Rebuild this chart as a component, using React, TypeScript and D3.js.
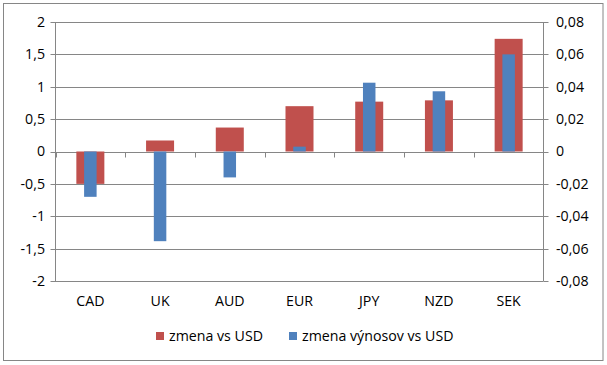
import React from "react";
import * as d3 from "d3";

const categories = ["CAD", "UK", "AUD", "EUR", "JPY", "NZD", "SEK"];
const zmenaVsUSD = [-0.5, 0.17, 0.37, 0.7, 0.77, 0.79, 1.74];
const zmenaVynosovVsUSD = [-0.028, -0.0554, -0.016, 0.003, 0.0425, 0.0372, 0.06];
const leftTicks = [-2, -1.5, -1, -0.5, 0, 0.5, 1, 1.5, 2];
const rightTicks = [-0.08, -0.06, -0.04, -0.02, 0, 0.02, 0.04, 0.06, 0.08];
const seriesNames = ["zmena vs USD", "zmena výnosov vs USD"];

const W = 607, H = 365;
const left = 55.5, right = 543.5, top = 22, bottom = 281;
const RED = "#C0504D", BLUE = "#4F81BD", GRID = "#868686";
const FONT = "'Open Sans', sans-serif";
const FS = 14.2;

export default function App() {
  const x = d3.scaleBand<string>().domain(categories).range([left, right]);
  const yL = d3.scaleLinear().domain([-2, 2]).range([bottom, top]);
  const yR = d3.scaleLinear().domain([-0.08, 0.08]).range([bottom, top]);
  const redW = 28, blueW = 12.5;
  const fmtL = (v: number) => (v === 0 ? "0" : String(v).replace(".", ","));
  const fmtR = (v: number) => (v === 0 ? "0" : v.toFixed(2).replace(".", ","));
  const y0 = Math.round(yL(0)) + 0.5;
  return (
    <svg width={W} height={H} style={{ position: "absolute", left: 0, top: 0, fontFamily: FONT }}>
      <rect x={0} y={0} width={W} height={H} fill="white" />
      <rect x={3.5} y={3.5} width={599.5} height={357} fill="white" stroke={GRID} strokeWidth={1} />
      {leftTicks.map((t) => (
        <g key={"l" + t}>
          <line x1={left - 5} x2={right} y1={Math.round(yL(t)) + 0.5} y2={Math.round(yL(t)) + 0.5} stroke={GRID} />
          <text x={45} y={yL(t)} dy="0.35em" textAnchor="end" fontSize={FS} fill="#000">{fmtL(t)}</text>
        </g>
      ))}
      {rightTicks.map((t) => (
        <g key={"r" + t}>
          <line x1={right} x2={right + 5} y1={Math.round(yR(t)) + 0.5} y2={Math.round(yR(t)) + 0.5} stroke={GRID} />
          <text x={556} y={yR(t)} dy="0.35em" textAnchor="start" fontSize={FS} fill="#000">{fmtR(t)}</text>
        </g>
      ))}
      <line x1={left} x2={left} y1={top} y2={bottom} stroke={GRID} />
      <line x1={right} x2={right} y1={top} y2={bottom} stroke={GRID} />
      {categories.map((c, i) => {
        const cx = (x(c) as number) + x.bandwidth() / 2;
        const v = zmenaVsUSD[i];
        return (
          <rect key={"red" + c} x={cx - redW / 2} width={redW} y={Math.min(yL(v), yL(0))} height={Math.abs(yL(v) - yL(0))} fill={RED} />
        );
      })}
      {categories.map((c, i) => {
        const cx = (x(c) as number) + x.bandwidth() / 2;
        const v = zmenaVynosovVsUSD[i];
        return (
          <rect key={"blue" + c} x={cx - blueW / 2} width={blueW} y={Math.min(yR(v), yR(0))} height={Math.abs(yR(v) - yR(0))} fill={BLUE} />
        );
      })}
      {categories.map((c) => (
        <line key={"t" + c} x1={Math.round(x(c) as number) + 0.5} x2={Math.round(x(c) as number) + 0.5} y1={y0} y2={y0 + 5} stroke={GRID} />
      ))}
      <line x1={right} x2={right} y1={y0} y2={y0 + 5} stroke={GRID} />
      {categories.map((c) => (
        <text key={"c" + c} x={(x(c) as number) + x.bandwidth() / 2} y={301} dy="0.35em" textAnchor="middle" fontSize={FS} fill="#000">{c}</text>
      ))}
      <rect x={156} y={332} width={8} height={8} fill={RED} />
      <text x={169} y={336} dy="0.35em" fontSize={FS} fill="#000">{seriesNames[0]}</text>
      <rect x={289} y={332} width={8} height={8} fill={BLUE} />
      <text x={302} y={336} dy="0.35em" fontSize={FS} fill="#000">{seriesNames[1]}</text>
    </svg>
  );
}
